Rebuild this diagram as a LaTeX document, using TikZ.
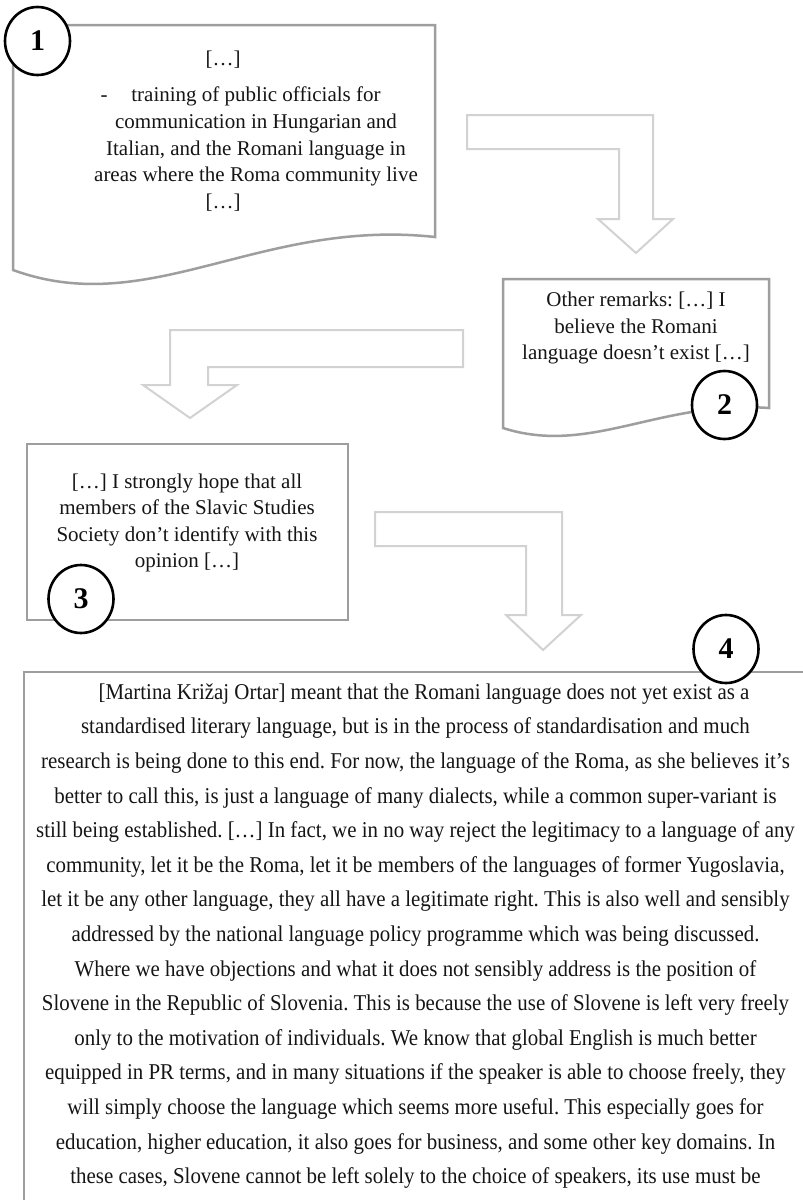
\documentclass[tikz,border=0pt]{standalone}
\usepackage{fontspec}
\setmainfont{Liberation Serif}
\newfontfamily\narrowserif[FakeStretch=0.925]{Liberation Serif}
\usetikzlibrary{shapes.geometric}
\frenchspacing
\definecolor{boxgray}{HTML}{9E9E9E}
\definecolor{arrowgray}{HTML}{D2D2D2}
\definecolor{ink}{HTML}{151515}
\tikzset{
  docbox/.style={draw=boxgray, line width=2.5pt, line join=miter, fill=white},
  blockarrow/.style={draw=arrowgray, line width=2pt, line join=miter, fill=white},
  badge/.style={ellipse, draw=black, line width=2.6pt, fill=white, inner sep=0pt,
    minimum width=65pt, minimum height=68pt, font=\fontsize{30}{30}\selectfont\bfseries},
  quote/.style={anchor=base, inner sep=0pt, text=ink, font=\fontsize{21}{25}\selectfont},
  speech/.style={anchor=base, inner sep=0pt, text=ink, font=\narrowserif\fontsize{22.6}{26}\selectfont}
}
\begin{document}
\begin{tikzpicture}[x=1pt,y=-1pt]
\clip (0,0) rectangle (803,1200);
\fill[white] (0,0) rectangle (803,1200);

% ---- document boxes ----
\draw[docbox] (13,270) -- (13,25) -- (435,25) -- (435,237)
  .. controls (260,218) and (150,320) .. cycle;
\draw[docbox] (503,428) -- (503,279) -- (769,279) -- (769,408)
  .. controls (660,400) and (590,456) .. cycle;
\draw[docbox] (27,444) rectangle (348,620);
\draw[docbox] (24,672) rectangle (840,1240);

% ---- block arrows between the boxes ----
\draw[blockarrow] (467,115) -- (653,115) -- (653,219) -- (673,219) -- (636,253)
  -- (598,219) -- (619,219) -- (619,149) -- (467,149) -- cycle;
\draw[blockarrow] (463,330) -- (463,367) -- (208,367) -- (208,385) -- (237,385)
  -- (190,418) -- (143,385) -- (170,385) -- (170,330) -- cycle;
\draw[blockarrow] (375,512) -- (562,512) -- (562,615) -- (581,615) -- (543,650)
  -- (506,615) -- (526,615) -- (526,546) -- (375,546) -- cycle;

% ---- box 1 ----
\node[quote] (q1a) at (223,65) {[…]};
\node[quote] (q1dash) at (104,101.7) {-};
\node[quote] (q1b) at (256,101.7) {training of public officials for};
\node[quote] (q1c) at (256,128.4) {communication in Hungarian and};
\node[quote] (q1d) at (256,155.1) {Italian, and the Romani language in};
\node[quote] (q1e) at (256,181.8) {areas where the Roma community live};
\node[quote] (q1f) at (223,208.5) {[…]};

% ---- box 2 ----
\node[quote] (q2a) at (636,306.7) {Other remarks: […] I};
\node[quote] (q2b) at (636,333) {believe the Romani};
\node[quote] (q2c) at (636,359.3) {language doesn’t exist […]};

% ---- box 3 ----
\node[quote] (q3a) at (187,488) {[…] I strongly hope that all};
\node[quote] (q3b) at (187,514.6) {members of the Slavic Studies};
\node[quote] (q3c) at (187,541.2) {Society don’t identify with this};
\node[quote] (q3d) at (187,567.8) {opinion […]};

% ---- box 4 ----
\node[speech] (s01) at (424,699.3) {[Martina Križaj Ortar] meant that the Romani language does not yet exist as a};
\node[speech] (s02) at (415.5,733.9) {standardised literary language, but is in the process of standardisation and much};
\node[speech] (s03) at (415.5,768.5) {research is being done to this end. For now, the language of the Roma, as she believes it’s};
\node[speech] (s04) at (415.5,803.1) {better to call this, is just a language of many dialects, while a common super-variant is};
\node[speech] (s05) at (415.5,837.7) {still being established. […] In fact, we in no way reject the legitimacy to a language of any};
\node[speech] (s06) at (415.5,872.3) {community, let it be the Roma, let it be members of the languages of former Yugoslavia,};
\node[speech] (s07) at (415.5,906.9) {let it be any other language, they all have a legitimate right. This is also well and sensibly};
\node[speech] (s08) at (415.5,941.5) {addressed by the national language policy programme which was being discussed.};
\node[speech] (s09) at (415.5,976.1) {Where we have objections and what it does not sensibly address is the position of};
\node[speech] (s10) at (415.5,1010.7) {Slovene in the Republic of Slovenia. This is because the use of Slovene is left very freely};
\node[speech] (s11) at (415.5,1045.3) {only to the motivation of individuals. We know that global English is much better};
\node[speech] (s12) at (415.5,1079.9) {equipped in PR terms, and in many situations if the speaker is able to choose freely, they};
\node[speech] (s13) at (415.5,1114.5) {will simply choose the language which seems more useful. This especially goes for};
\node[speech] (s14) at (415.5,1149.1) {education, higher education, it also goes for business, and some other key domains. In};
\node[speech] (s15) at (415.5,1183.7) {these cases, Slovene cannot be left solely to the choice of speakers, its use must be};

% ---- numbered badges ----
\node[badge] (n1) at (37.5,41) {1};
\node[badge] (n2) at (724.5,405) {2};
\node[badge] (n3) at (81,599) {3};
\node[badge] (n4) at (726,649) {4};
\end{tikzpicture}
\end{document}
